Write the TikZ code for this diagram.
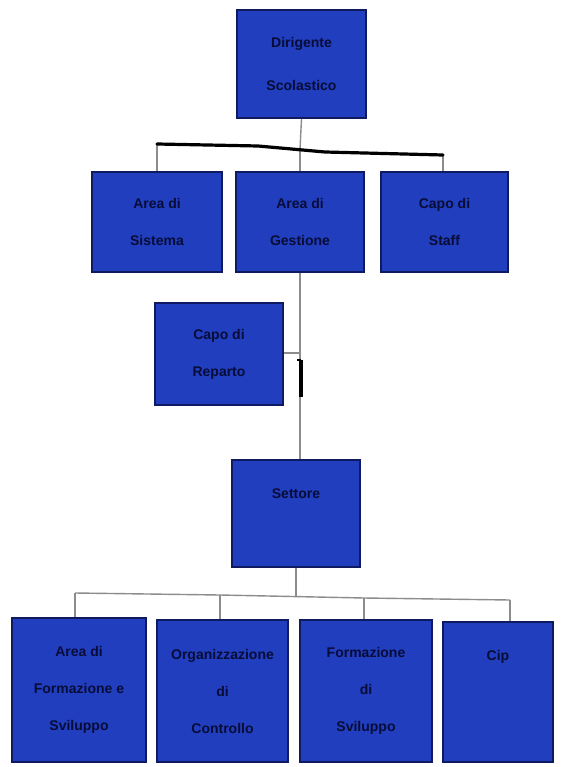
\documentclass[tikz,border=0pt]{standalone}
\usepackage{fontspec}
\setmainfont{Liberation Sans}
\definecolor{boxfill}{RGB}{32,62,190}
\definecolor{boxedge}{RGB}{16,26,96}
\definecolor{txt}{RGB}{8,12,55}
\definecolor{conn}{RGB}{140,140,140}
\tikzset{
  orgbox/.style={draw=boxedge, fill=boxfill, line width=2pt, inner sep=0pt,
    align=center, text=txt, font=\bfseries\fontsize{14}{37}\selectfont},
  connline/.style={draw=conn, line width=1.4pt},
  inktext/.style={text=txt, font=\bfseries\fontsize{14}{16}\selectfont},
}
\begin{document}
\begin{tikzpicture}[x=1pt,y=-1pt]
\useasboundingbox (0,0) rectangle (568,767);
\fill[white] (0,0) rectangle (568,767);

% boxes
\node[orgbox, minimum width=129pt, minimum height=108pt, font=\bfseries\fontsize{14}{43}\selectfont] (top) at (301.5,64) {Dirigente\\Scolastico};
\node[orgbox, minimum width=130pt, minimum height=100pt] (l2a) at (157,222) {Area di\\Sistema};
\node[orgbox, minimum width=128pt, minimum height=100pt] (l2b) at (300,222) {Area di\\Gestione};
\node[orgbox, minimum width=127pt, minimum height=100pt] (l2c) at (444.5,222) {Capo di\\Staff};
\node[orgbox, minimum width=128pt, minimum height=102pt] (ml) at (219,354) {Capo di\\Reparto};
\node[orgbox, minimum width=128pt, minimum height=107pt,
  label={[inktext, yshift=20pt]center:Settore}] (ed) at (296,513.5) {};
\node[orgbox, minimum width=134pt, minimum height=144pt] (b1) at (79,690) {Area di\\Formazione e\\Sviluppo};
\node[orgbox, minimum width=131pt, minimum height=142pt] (b2) at (222.5,691) {Organizzazione\\di\\Controllo};
\node[orgbox, minimum width=132pt, minimum height=142pt] (b3) at (366,691) {Formazione\\di\\Sviluppo};
\node[orgbox, minimum width=110pt, minimum height=140pt,
  label={[inktext, yshift=35pt]center:Cip}] (b4) at (498,692) {};

% connectors: top level
\coordinate (ta) at (157,144);
\coordinate (tb) at (300,149);
\coordinate (tc) at (443,155);
\draw[connline] (top.south) -- (tb);
\draw[connline] (ta) -- (ta |- l2a.north);
\draw[connline] (tb) -- (tb |- l2b.north);
\draw[connline] (tc) -- (tc |- l2c.north);
\draw[black, line width=3.2pt, line cap=round] (ta) -- (258,146) -- (325,152) -- (tc);

% middle column
\draw[connline] (l2b.south) -- (ed.north -| l2b.south);
\coordinate (mj) at (300,353);
\draw[connline] (ml.east |- mj) -- (mj);
\coordinate (m1) at (301,360);
\coordinate (m2) at (301,397);
\draw[black, line width=4pt] (m1) -- (m2);
\draw[black, line width=1.5pt] (297,360) -- (301,360);

% bottom level
\coordinate (ba) at (75,593);
\coordinate (bb) at (220,595);
\coordinate (bc) at (364,598);
\coordinate (bd) at (510,600);
\draw[connline] (ed.south) -- (296,596);
\draw[connline] (ba) -- (bb) -- (bc) -- (bd);
\draw[connline] (ba) -- (ba |- b1.north);
\draw[connline] (bb) -- (bb |- b2.north);
\draw[connline] (bc) -- (bc |- b3.north);
\draw[connline] (bd) -- (bd |- b4.north);
\end{tikzpicture}
\end{document}
